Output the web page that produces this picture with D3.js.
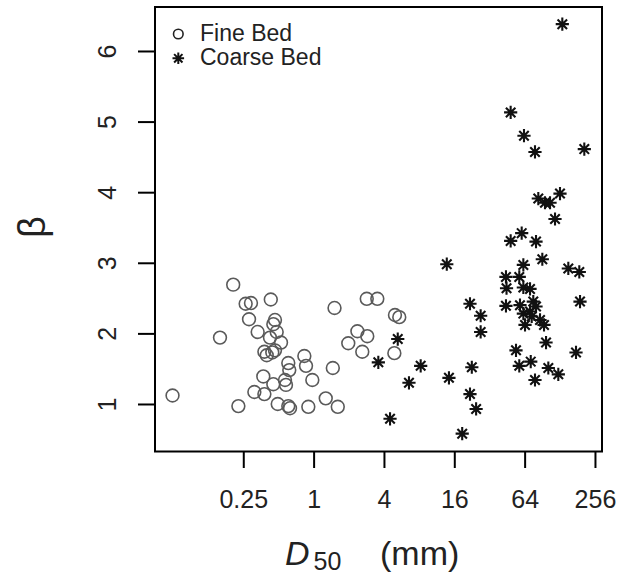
<!DOCTYPE html>
<html><head><meta charset="utf-8">
<script src="https://cdn.jsdelivr.net/npm/d3@7"></script>
<style>body{margin:0;background:#fff}svg{display:block}text{font-family:"Liberation Sans",Arial,sans-serif}</style>
</head><body>
<svg id="c" width="624" height="575"></svg>
<script>
// Fine bed: D50 (mm) and beta
const fineD50 = [0.062,0.158,0.205,0.227,0.262,0.291,0.430,0.280,0.332,0.467,0.452,0.483,0.423,0.526,0.379,0.397,0.443,0.467,0.833,0.861,0.607,0.619,0.371,0.452,0.569,0.580,0.975,0.311,0.379,0.493,0.607,0.628,0.901,1.27,1.46,1.61,1.51,1.98,2.37,2.88,2.61,2.85,3.51,4.97,5.41,4.91];
const fineBeta = [1.12,1.94,2.69,0.97,2.42,2.43,2.48,2.20,2.02,2.19,2.13,2.02,1.94,1.87,1.74,1.69,1.73,1.76,1.68,1.54,1.58,1.48,1.39,1.28,1.34,1.27,1.34,1.17,1.14,1.00,0.97,0.94,0.96,1.08,1.51,0.96,2.36,1.86,2.03,1.96,1.74,2.49,2.49,2.26,2.23,1.72];
// Coarse bed
const coarseD50 = [13.8,5.25,3.58,8.25,6.55,4.51,14.4,22.6,21.8,26.9,26.9,21.8,24.6,18.7,134.5,48.6,63.2,78.5,207.5,83.8,95.6,105.6,128.5,116.5,48.6,60.4,80.1,90.7,62.4,151.4,188,44.3,57.6,44.8,62.4,71.2,190.7,44.3,58.4,75.9,80.1,62.4,71.2,73.6,64.5,86.7,93.8,97.6,54.0,176.2,57.6,72.2,102.1,124.3,78.5];
const coarseBeta = [2.98,1.92,1.59,1.54,1.30,0.79,1.37,1.52,2.42,2.25,2.02,1.14,0.93,0.58,6.38,5.13,4.80,4.57,4.61,3.91,3.85,3.85,3.98,3.62,3.31,3.42,3.30,3.05,2.97,2.92,2.87,2.80,2.80,2.64,2.65,2.63,2.45,2.39,2.40,2.45,2.38,2.28,2.31,2.24,2.12,2.19,2.12,1.87,1.76,1.73,1.54,1.60,1.51,1.42,1.34];
const xTicks = [0.25,1,4,16,64,256];
const xTickLabels = ["0.25","1","4","16","64","256"];
const yTicks = [1,2,3,4,5,6];
const legendLabels = ["Fine Bed","Coarse Bed"];

const svg = d3.select("#c");
const L=155,R=602,T=7,B=451.5;
const x = d3.scaleLog().base(2).domain([Math.pow(2,-4.51),Math.pow(2,8.20)]).range([L,R]);
const y = d3.scaleLinear().domain([0.327,6.623]).range([B,T]);

// axes
const xa = svg.append("g").attr("transform",`translate(0,${B})`)
  .call(d3.axisBottom(x).tickValues(xTicks).tickFormat((d,i)=>xTickLabels[i]).tickSize(16.5).tickPadding(22));
xa.select(".domain").remove();
xa.selectAll("line").attr("stroke","#000").attr("stroke-width",2);
xa.selectAll("text").attr("font-size",25).attr("fill","#222").attr("dy","0.71em");

const ya = svg.append("g").attr("transform",`translate(${L},0)`)
  .call(d3.axisLeft(y).tickValues(yTicks).tickFormat(d3.format("d")).tickSize(17));
ya.select(".domain").remove();
ya.selectAll("line").attr("stroke","#000").attr("stroke-width",2);
ya.selectAll("text").attr("font-size",25).attr("fill","#222")
  .attr("text-anchor","middle").attr("x",0).attr("dy",0)
  .attr("transform","translate(-48,0) rotate(-90) translate(0,9)");

// box
svg.append("rect").attr("x",L).attr("y",T).attr("width",R-L).attr("height",B-T)
  .attr("fill","none").attr("stroke","#000").attr("stroke-width",2);

// points
const fine = fineD50.map((d,i)=>({d, b:fineBeta[i]}));
const coarse = coarseD50.map((d,i)=>({d, b:coarseBeta[i]}));
svg.append("g").selectAll("circle").data(fine).join("circle")
  .attr("cx",p=>x(p.d)).attr("cy",p=>y(p.b)).attr("r",6.4)
  .attr("fill","none").attr("stroke","#5a5a5a").attr("stroke-width",1.6);

function star(s){const a=s*0.72;return `M0,${-s}V${s}M${-s},0H${s}M${-a},${-a}L${a},${a}M${-a},${a}L${a},${-a}`;}
svg.append("g").selectAll("path").data(coarse).join("path")
  .attr("transform",p=>`translate(${x(p.d)},${y(p.b)})`)
  .attr("d",star(6.6)).attr("fill","none").attr("stroke","#111").attr("stroke-width",2.1);

// legend
const lg = svg.append("g");
lg.append("circle").attr("cx",178.3).attr("cy",34).attr("r",4.8).attr("fill","none").attr("stroke","#222").attr("stroke-width",1.6);
lg.append("path").attr("transform","translate(178.3,58.3)").attr("d",star(5.8)).attr("stroke","#111").attr("stroke-width",2);
lg.selectAll("text").data(legendLabels).join("text")
  .attr("x",200).attr("y",(d,i)=>41+i*24.3).attr("font-size",23).attr("fill","#222").text(d=>d);

// y title
svg.append("text").attr("transform","translate(45,227) rotate(-90)").attr("text-anchor","middle")
  .attr("font-size",38).attr("fill","#222").text("β");

// x title
const xt = svg.append("text").attr("x",285).attr("y",565).attr("font-size",34).attr("fill","#222");
xt.append("tspan").attr("font-style","italic").text("D");
xt.append("tspan").attr("font-size",25).attr("dy",5).attr("dx",4).text("50");
xt.append("tspan").attr("dy",-5).attr("x",380).text("(mm)");
</script>
</body></html>
